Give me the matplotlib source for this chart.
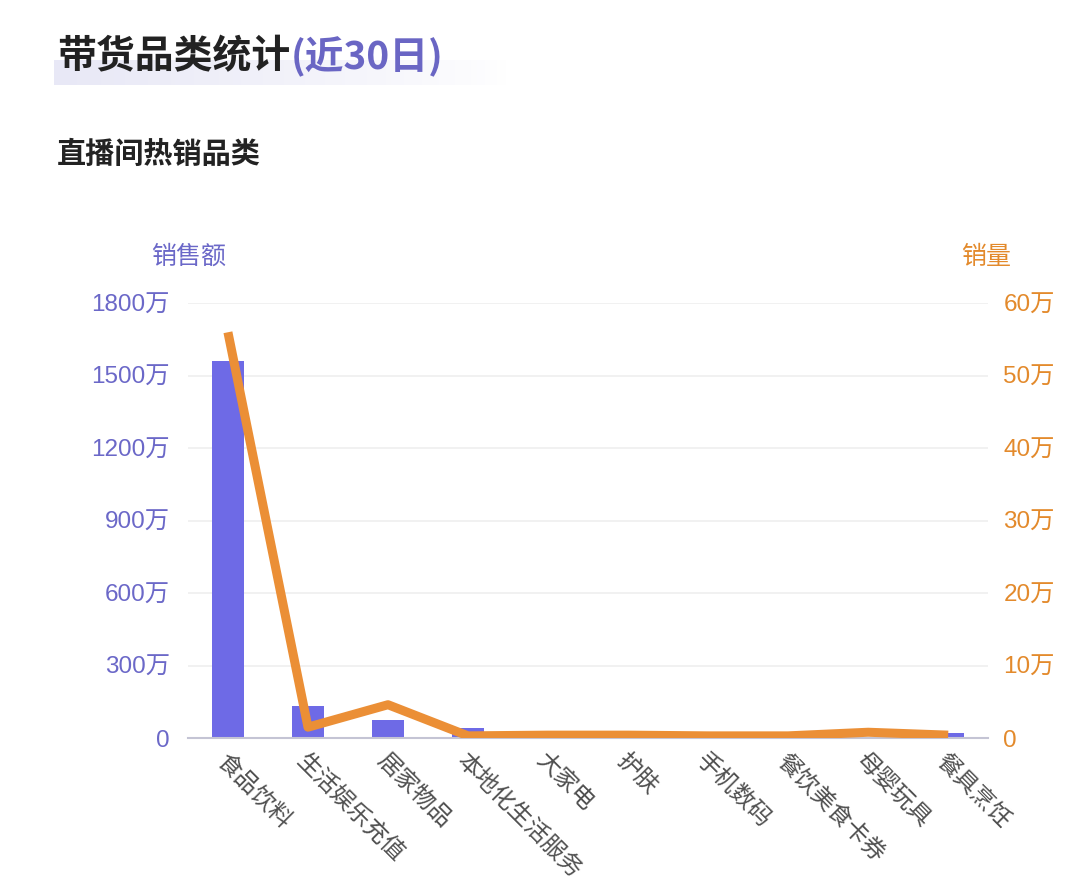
import matplotlib
matplotlib.use("Agg")
import matplotlib.pyplot as plt
import numpy as np

plt.rcParams['font.family'] = ['Noto Sans CJK SC', 'DejaVu Sans']
NUMFONT = ['Liberation Sans', 'Noto Sans CJK SC']

categories = ["食品饮料", "生活娱乐充值", "居家物品", "本地化生活服务", "大家电",
              "护肤", "手机数码", "餐饮美食卡券", "母婴玩具", "餐具烹饪"]
sales_wan = [1560, 132, 74, 42, 6, 5, 4, 4, 6, 21]          # 销售额 (万)
volume_wan = [56, 1.5, 4.6, 0.3, 0.4, 0.4, 0.3, 0.3, 0.8, 0.4]  # 销量 (万)
left_ticks = [0, 300, 600, 900, 1200, 1500, 1800]
right_ticks = [0, 10, 20, 30, 40, 50, 60]

PURPLE = "#6e6ae6"
PURPLE_TXT = "#6b68c8"
ORANGE = "#eb8f36"
ORANGE_TXT = "#e38a2c"

fig = plt.figure(figsize=(10.8, 8.92), dpi=100)
fig.patch.set_facecolor("white")

# faint decorative gradient band behind the title
bg = fig.add_axes([0.05, 0.905, 0.42, 0.028], zorder=-5)
grad = np.zeros((1, 256, 4))
grad[..., 0] = 0.91
grad[..., 1] = 0.91
grad[..., 2] = 0.965
grad[..., 3] = np.linspace(1.0, 0.0, 256) ** 0.8
bg.imshow(grad, aspect="auto", extent=[0, 1, 0, 1])
bg.axis("off")

ax = fig.add_axes([0.174, 0.1726, 0.741, 0.4874])
x = list(range(len(categories)))
ax.bar(x, sales_wan, width=0.4, color=PURPLE, zorder=2)
ax.set_xlim(-0.5, len(categories) - 0.5)
ax.set_ylim(0, 1800)
ax.set_yticks(left_ticks)
ax.set_yticklabels([f"{v}万" if v else "0" for v in left_ticks], color=PURPLE_TXT,
                   fontsize=17.5, family=NUMFONT)
ax.yaxis.grid(True, color="#efefef", linewidth=1.2, zorder=0)
ax.set_axisbelow(True)
for s in ["top", "right", "left"]:
    ax.spines[s].set_visible(False)
ax.spines["bottom"].set_color("#c4c4d4")
ax.spines["bottom"].set_linewidth(1.5)
ax.tick_params(axis="y", length=0, pad=13)
ax.tick_params(axis="x", length=0, pad=8)
ax.set_xticks(x)
ax.set_xticklabels(categories, rotation=-45, ha="left", va="top", rotation_mode="anchor",
                   fontsize=17, color="#505050")

ax2 = ax.twinx()
ax2.plot(x, volume_wan, color=ORANGE, linewidth=6.5, solid_joinstyle="round",
         solid_capstyle="butt", zorder=3)
ax2.set_ylim(0, 60)
ax2.set_yticks(right_ticks)
ax2.set_yticklabels([f"{v}万" if v else "0" for v in right_ticks], color=ORANGE_TXT,
                    fontsize=17.5, family=NUMFONT)
for s in ["top", "right", "left", "bottom"]:
    ax2.spines[s].set_visible(False)
ax2.tick_params(axis="y", length=0, pad=11)

fig.text(0.175, 0.712, "销售额", color=PURPLE_TXT, fontsize=18, ha="center", va="center")
fig.text(0.913, 0.712, "销量", color=ORANGE_TXT, fontsize=18, ha="center", va="center")

t1 = fig.text(0.053, 0.936, "带货品类统计", color="#222222", fontsize=28, fontweight="bold",
              ha="left", va="center")
fig.canvas.draw()
bb = t1.get_window_extent()
x_end = bb.x1 / fig.bbox.width
fig.text(x_end, 0.936, "(近30日)", color="#6a66c4", fontsize=28, fontweight="bold",
         ha="left", va="center")
fig.text(0.053, 0.827, "直播间热销品类", color="#222222", fontsize=21, fontweight="bold",
         ha="left", va="center")

fig.savefig("out.png", dpi=100, facecolor="white")
